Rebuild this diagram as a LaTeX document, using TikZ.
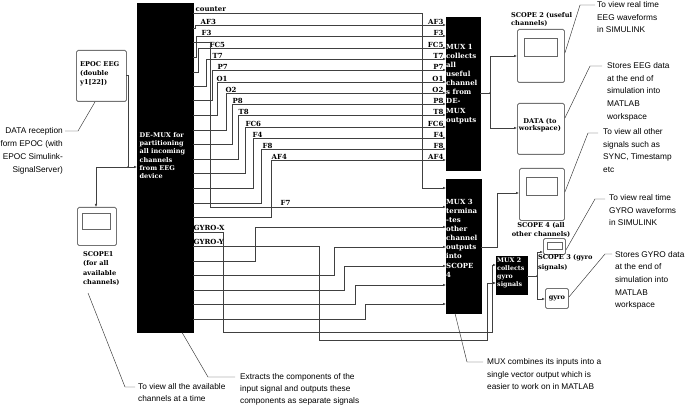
\documentclass[tikz,border=0pt]{standalone}
\usepackage{fontspec}
\setmainfont{DejaVu Serif}
\newfontfamily\annfont{Liberation Sans}
\usetikzlibrary{arrows.meta}
\begin{document}
\begin{tikzpicture}[x=1pt,y=-1pt,
  sig/.style={draw=black!75, line width=0.45pt},
  arr/.style={sig, -{Latex[length=3pt,width=2.4pt]}},
  blk/.style={fill=black, draw=black, inner sep=0pt, anchor=north west},
  wtxt/.style={text=white, font=\fontsize{7}{9.1}\selectfont\bfseries, align=left, inner sep=0pt, anchor=north west},
  lbl/.style={font=\fontsize{7}{8}\selectfont\bfseries, inner sep=0.4pt},
  ann/.style={font=\annfont\fontsize{8.3}{12.6}\selectfont, align=left, inner sep=0pt, anchor=north west},
  lead/.style={draw=black!80, line width=0.45pt},
  scopebox/.style={draw=black!55, line width=0.9pt, rounded corners=1.5pt, inner sep=0pt, anchor=north west, fill=white},
  scr/.style={draw=black!60, line width=0.6pt},
  btxt/.style={font=\fontsize{6.6}{9}\selectfont\bfseries, align=left, inner sep=0pt, anchor=north west},
]
\useasboundingbox (0,0) rectangle (685,406);

% ---------- blocks ----------
\node[blk, minimum width=56pt, minimum height=329pt] (demux) at (137,3) {};
\node[blk, minimum width=34pt, minimum height=153pt] (mux1) at (446,17) {};
\node[blk, minimum width=35pt, minimum height=134pt] (mux3) at (446,179) {};
\node[blk, minimum width=31pt, minimum height=38pt] (mux2) at (496,256) {};

\node[scopebox, minimum width=50pt, minimum height=51pt] (epoc) at (76,50) {};
\node[scopebox, minimum width=39pt, minimum height=38pt] (scope1) at (77,207) {};
\node[scopebox, minimum width=47pt, minimum height=53pt] (scope2) at (517,29) {};
\node[scopebox, minimum width=47pt, minimum height=51pt] (data) at (517,103) {};
\node[scopebox, minimum width=45pt, minimum height=52pt] (scope4) at (519,168) {};
\node[scopebox, minimum width=22pt, minimum height=16pt] (scope3) at (543,238) {};
\node[scopebox, minimum width=23pt, minimum height=20pt] (gyro) at (545,288) {};

\draw[scr] (82,213) rectangle (110,229);
\draw[scr] (524,38) rectangle (557,56);
\draw[scr] (526,177) rectangle (557,195);
\draw[scr] (547,242) rectangle (562,249);

% ---------- block texts ----------
\node[wtxt, font=\fontsize{6.5}{8.3}\selectfont\bfseries] (demuxtxt) at (139.5,132) {DE-MUX for\\partitioning\\all incoming\\channels\\from EEG\\device};
\node[wtxt] (mux1txt) at (446,44) {MUX 1\\collects\\all\\useful\\channel\\s from\\DE-\\MUX\\outputs};
\node[wtxt] (mux3txt) at (446,199) {MUX 3\\termina\\-tes\\other\\channel\\outputs\\into\\SCOPE\\4};
\node[wtxt, font=\fontsize{6.3}{8.2}\selectfont\bfseries] (mux2txt) at (497,257.5) {MUX 2\\collects\\gyro\\signals};

\node[btxt] (epoctxt) at (80,61) {EPOC EEG\\(double\\y1[22])};
\node[btxt, font=\fontsize{6.6}{9.6}\selectfont\bfseries] (scope1txt) at (83,251) {SCOPE1\\(for all\\available\\channels)};
\node[btxt, font=\fontsize{6.6}{8}\selectfont\bfseries] (scope2txt) at (511,12) {SCOPE 2 (useful\\channels)};
\node[btxt, font=\fontsize{6.6}{7.5}\selectfont\bfseries, align=center, anchor=center] (datatxt) at (540,125) {DATA (to\\workspace)};
\node[btxt, font=\fontsize{6.6}{9}\selectfont\bfseries, align=center, anchor=north] (scope4txt) at (541,222) {SCOPE 4 (all\\other channels)};
\node[btxt, font=\fontsize{6.6}{10}\selectfont\bfseries] (scope3txt) at (538,254) {SCOPE 3 (gyro\\signals)};
\node[btxt, anchor=center] (gyrotxt) at (gyro.center) {gyro};

% ---------- signals to MUX 1 ----------
\foreach \n/\py/\cx/\ly/\lx in {AF3/28/195/25/200, F3/57/196/36/201, FC5/72/198/48/209,
  T7/86/206/59/212, P7/100/212/70/217, O1/115/217/82/216, O2/130/226/93/225,
  P8/144/232/104/232, T8/159/238/115/238, FC6/173/245/127/245, F4/188/253/138/252,
  F8/203/261/149/262, AF4/217/271/160/271}{
  \coordinate (dm\n) at (193,\py);
  \coordinate (mi\n) at (446,\ly);
  \draw[arr] (dm\n) -| (\cx,\ly) -- (mi\n);
  \node[lbl, anchor=south west] (la\n) at (\lx,\ly) {\n};
  \node[lbl, anchor=south east] (lb\n) at (444,\ly) {\n};
}

% ---------- signals to MUX 3 ----------
\coordinate (dmcounter) at (193,13);
\coordinate (m3a) at (446,188);
\draw[arr] (dmcounter) -| (422,188) -- (m3a);
\node[lbl, anchor=south west] (lacounter) at (195,12) {counter};

\coordinate (dmF7) at (193,42);
\coordinate (m3b) at (446,207);
\draw[arr] (dmF7) -| (210,207) -- (m3b);
\node[lbl, anchor=south west] (laF7) at (280,206) {F7};

\foreach \k/\py/\cx/\ly in {c/261/255/227, d/275/334/247, e/290/344/266, f/304/355/285, g/319/365/304}{
  \coordinate (dmp\k) at (193,\py);
  \coordinate (m3\k) at (446,\ly);
  \draw[arr] (dmp\k) -| (\cx,\ly) -- (m3\k);
}

% ---------- gyro signals to MUX 2 ----------
\coordinate (dmgx) at (193,232);
\coordinate (m2a) at (496,265);
\draw[arr] (dmgx) -| (223,332) -| (492,265) -- (m2a);
\node[lbl, anchor=south west] (lagx) at (193,231) {GYRO-X};

\coordinate (dmgy) at (193,246);
\coordinate (m2b) at (496,283);
\draw[arr] (dmgy) -| (319,340) -| (487,283) -- (m2b);
\node[lbl, anchor=south west] (lagy) at (193,245) {GYRO-Y};

% ---------- outputs ----------
\coordinate (m1out) at (480,93);
\coordinate (j1) at (490,93);
\draw[sig] (m1out) -- (j1);
\draw[arr] (j1) |- (scope2.west |- 0,56);
\draw[arr] (j1) |- (data.west |- 0,128);
\fill[black!75] (j1) circle (0.8);

\coordinate (m3out) at (481,247);
\draw[arr] (m3out) -| (497,193) -- (scope4.west |- 0,193);

\coordinate (m2out) at (527,276);
\coordinate (j2) at (537,276);
\draw[sig] (m2out) -- (j2);
\draw[arr] (j2) |- (scope3.west |- 0,252);
\draw[arr] (j2) |- (gyro.west |- 0,299);
\fill[black!75] (j2) circle (0.8);

\coordinate (epout) at (126,75);
\coordinate (j0) at (128,167);
\draw[sig] (epout) -| (j0);
\draw[arr] (j0) -- (demux.west |- 0,167);
\draw[arr] (j0) -| (scope1.north -| 96,0);
\fill[black!75] (j0) circle (0.8);

% ---------- annotations ----------
\node[ann, align=right, anchor=north east, font=\annfont\fontsize{8.3}{13.2}\selectfont] (epocann) at (63,127) {DATA reception\\form EPOC (with\\EPOC Simulink-\\SignalServer)};
\draw[lead] (65,131) -- (78,131) -- (epoc.south -| 95,0);

\node[ann] (scope1ann) at (138,383) {To view all the available\\channels at a time};
\draw[lead] (88,293) -- (125,387) -- (135,387);

\node[ann, font=\annfont\fontsize{8.3}{12.2}\selectfont] (demuxann) at (240,373) {Extracts the components of the\\input signal and outputs these\\components as separate signals};
\draw[lead] (demux.south -| 182,0) -- (208,377) -- (235,377);

\node[ann] (muxann) at (487,358.5) {MUX combines its inputs into a\\single vector output which is\\easier to work on in MATLAB};
\draw[lead] (mux3.south -| 455,0) -- (467,362) -- (483,362);

\node[ann] (scope2ann) at (597,1.5) {To view real time\\EEG waveforms\\in SIMULINK};
\draw[lead] (scope2.east |- 0,53) -- (580,5) -- (595,5);

\node[ann] (dataann) at (607,62.5) {Stores EEG data\\at the end of\\simulation into\\MATLAB\\workspace};
\draw[lead] (data.east |- 0,118) -- (590,66) -- (602,66);

\node[ann] (scope4ann) at (603,128.5) {To view all other\\signals such as\\SYNC, Timestamp\\etc};
\draw[lead] (scope4.east |- 0,192) -- (588,133) -- (598,133);

\node[ann] (scope3ann) at (609,194.5) {To view real time\\GYRO waveforms\\in SIMULINK};
\draw[lead] (scope3.east |- 0,250) -- (595,199) -- (605,199);

\node[ann] (gyroann) at (615,251) {Stores GYRO data\\at the end of\\simulation into\\MATLAB\\workspace};
\draw[lead] (gyro.east |- 0,297) -- (605,254) -- (612,254);
\end{tikzpicture}
\end{document}
